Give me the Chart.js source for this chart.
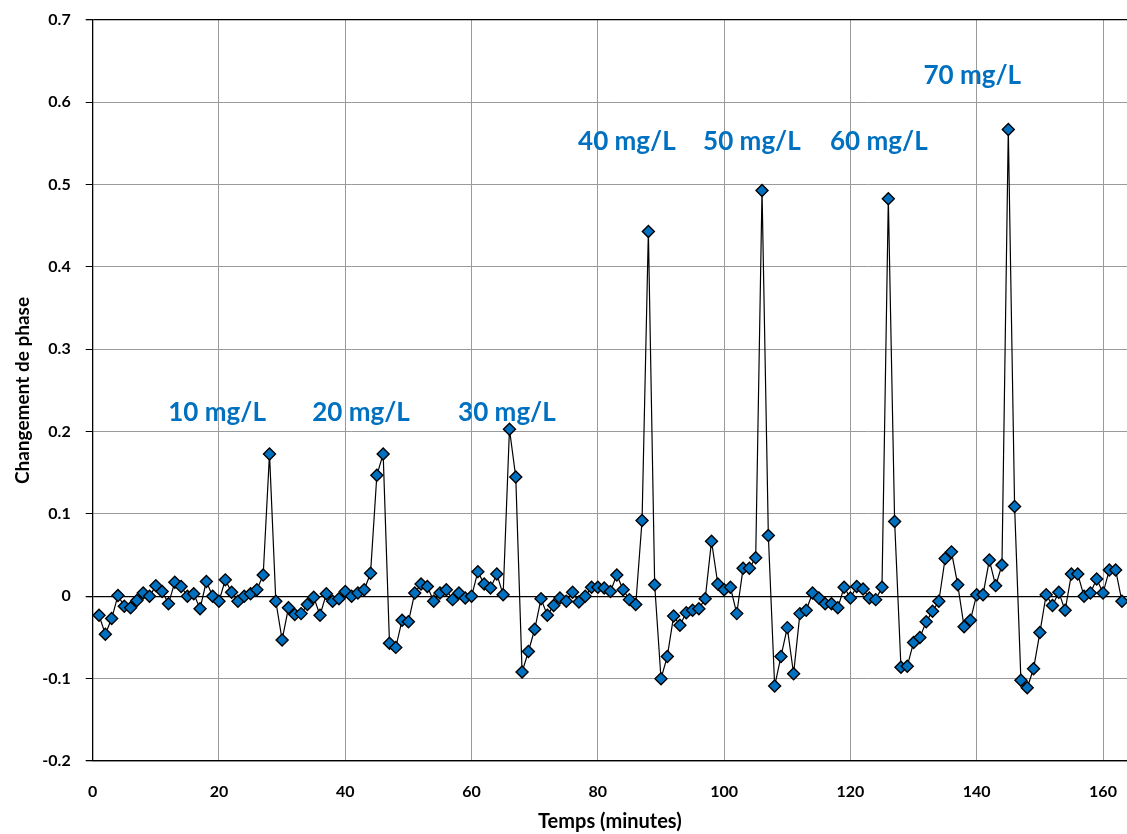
<!DOCTYPE html>
<html>
<head>
<meta charset="utf-8">
<script src="https://cdn.jsdelivr.net/npm/chart.js@4"></script>
<style>
  html, body { margin: 0; padding: 0; background: #fff; }
  #wrap { width: 1127px; height: 834px; position: relative; }
</style>
</head>
<body>
<div id="wrap"><canvas id="c" width="1127" height="834"></canvas></div>
<script>
// Sampling times (minutes)
const times = [
  1,2,3,4,5,6,7,8,9,10,11,12,13,14,15,16,17,18,19,20,
  21,22,23,24,25,26,27,28,29,30,31,32,33,34,35,36,37,38,39,40,
  41,42,43,44,45,46,47,48,49,50,51,52,53,54,55,56,57,58,59,60,
  61,62,63,64,65,66,67,68,69,70,71,72,73,74,75,76,77,78,79,80,
  81,82,83,84,85,86,87,88,89,90,91,92,93,94,95,96,97,98,99,100,
  101,102,103,104,105,106,107,108,109,110,111,112,113,114,115,116,117,118,119,120,
  121,122,123,124,125,126,127,128,129,130,131,132,133,134,135,136,137,138,139,140,
  141,142,143,144,145,146,147,148,149,150,151,152,153,154,155,156,157,158,159,160,
  161,162,163
];

// Measured phase change
const phaseShift = [
  -0.023,-0.046,-0.027,0.001,-0.012,-0.014,-0.005,0.004,0.000,0.013,
  0.006,-0.009,0.017,0.012,0.000,0.003,-0.015,0.018,0.000,-0.006,
  0.020,0.005,-0.006,0.000,0.003,0.008,0.026,0.173,-0.006,-0.053,
  -0.014,-0.022,-0.021,-0.010,-0.001,-0.023,0.003,-0.006,-0.003,0.006,
  0.000,0.004,0.008,0.028,0.147,0.173,-0.057,-0.062,-0.029,-0.031,
  0.004,0.015,0.012,-0.006,0.004,0.008,-0.004,0.004,-0.002,0.000,
  0.030,0.015,0.010,0.027,0.002,0.203,0.145,-0.092,-0.067,-0.040,
  -0.003,-0.023,-0.011,-0.002,-0.006,0.005,-0.007,0.000,0.011,0.011,
  0.010,0.006,0.026,0.008,-0.004,-0.010,0.092,0.443,0.014,-0.100,
  -0.073,-0.024,-0.035,-0.020,-0.017,-0.015,-0.003,0.067,0.015,0.008,
  0.011,-0.021,0.034,0.034,0.047,0.493,0.074,-0.109,-0.073,-0.038,
  -0.094,-0.021,-0.017,0.004,-0.002,-0.009,-0.009,-0.014,0.011,-0.002,
  0.012,0.009,-0.002,-0.004,0.011,0.483,0.091,-0.086,-0.085,-0.056,
  -0.050,-0.031,-0.018,-0.006,0.046,0.054,0.014,-0.037,-0.029,0.002,
  0.002,0.044,0.013,0.038,0.567,0.109,-0.102,-0.111,-0.088,-0.044,
  0.002,-0.011,0.005,-0.017,0.027,0.027,0.000,0.004,0.021,0.004,
  0.032,0.032,-0.006
];

// Concentration labels and where each one sits (data coordinates)
const concLabels = ['10 mg/L','20 mg/L','30 mg/L','40 mg/L','50 mg/L','60 mg/L','70 mg/L'];
const concLabelX = [19.7, 42.5, 65.6, 84.6, 104.4, 124.5, 139.3];
const concLabelY = [0.223, 0.223, 0.223, 0.552, 0.552, 0.552, 0.633];

// Axis tick values
const xTicks = [0, 20, 40, 60, 80, 100, 120, 140, 160];
const yTicks = [-0.2, -0.1, 0, 0.1, 0.2, 0.3, 0.4, 0.5, 0.6, 0.7];

const FONT = 'Lato, "Open Sans", sans-serif';
const points = times.map((t, i) => ({ x: t, y: phaseShift[i] }));

const concLabelPlugin = {
  id: 'concLabels',
  afterDatasetsDraw(chart) {
    const { ctx, scales: { x, y } } = chart;
    ctx.save();
    ctx.fillStyle = '#0070C0';
    ctx.font = 'bold 26px ' + FONT;
    ctx.textAlign = 'center';
    ctx.textBaseline = 'middle';
    concLabels.forEach((txt, i) => {
      ctx.fillText(txt, x.getPixelForValue(concLabelX[i]), y.getPixelForValue(concLabelY[i]));
    });
    ctx.restore();
  }
};

const isBorderValue = v => Math.abs(v) < 1e-9 || Math.abs(v - 0.7) < 1e-9 || Math.abs(v + 0.2) < 1e-9;

new Chart(document.getElementById('c'), {
  type: 'line',
  data: {
    datasets: [{
      data: points,
      borderColor: '#000',
      borderWidth: 1.2,
      tension: 0,
      pointStyle: 'rectRot',
      pointRadius: 6,
      pointBackgroundColor: '#0070C0',
      pointBorderColor: '#000',
      pointBorderWidth: 1.4
    }]
  },
  options: {
    responsive: false,
    animation: false,
    devicePixelRatio: 1,
    layout: { autoPadding: false, padding: { top: 20, right: 0, left: 0, bottom: 0 } },
    plugins: { legend: { display: false }, tooltip: { enabled: false } },
    scales: {
      x: {
        type: 'linear',
        min: 0,
        max: 163.8,
        afterBuildTicks(scale) { scale.ticks = xTicks.map(v => ({ value: v })); },
        afterFit(scale) {
          scale.height = 73;
          scale.paddingLeft = 0;
          scale.paddingRight = 0;
        },
        ticks: {
          color: '#000',
          font: { family: FONT, size: 16, weight: 'bold' },
          padding: 21,
          maxRotation: 0,
          callback: v => String(v)
        },
        grid: {
          color: ctx => (ctx.tick && ctx.tick.value === 0) ? 'rgba(0,0,0,0)' : '#9a9a9a',
          lineWidth: 1,
          drawTicks: false
        },
        border: { display: true, color: '#000', width: 1.3 },
        title: {
          display: true,
          text: 'Temps (minutes)',
          color: '#000',
          font: { family: FONT, size: 20, weight: 'bold' },
          padding: { top: 0, bottom: 0 }
        }
      },
      y: {
        type: 'linear',
        min: -0.2,
        max: 0.7,
        afterBuildTicks(scale) { scale.ticks = yTicks.map(v => ({ value: v })); },
        afterFit(scale) {
          scale.width = 92.7;
          scale.paddingTop = 0;
          scale.paddingBottom = 0;
        },
        ticks: {
          color: '#000',
          font: { family: FONT, size: 16, weight: 'bold' },
          padding: 15,
          callback: v => (Math.abs(v) < 1e-9 ? '0' : (Math.round(v * 10) / 10).toFixed(1))
        },
        grid: {
          color: ctx => (ctx.tick && isBorderValue(ctx.tick.value)) ? '#000' : '#9a9a9a',
          lineWidth: ctx => (ctx.tick && isBorderValue(ctx.tick.value)) ? 1.3 : 1,
          tickColor: '#000',
          tickLength: 7,
          drawTicks: true
        },
        border: { display: true, color: '#000', width: 1.3 },
        title: {
          display: true,
          text: 'Changement de phase',
          color: '#000',
          font: { family: FONT, size: 19, weight: 'bold' },
          padding: { top: 11, bottom: 0 }
        }
      }
    }
  },
  plugins: [concLabelPlugin]
});
</script>
</body>
</html>
